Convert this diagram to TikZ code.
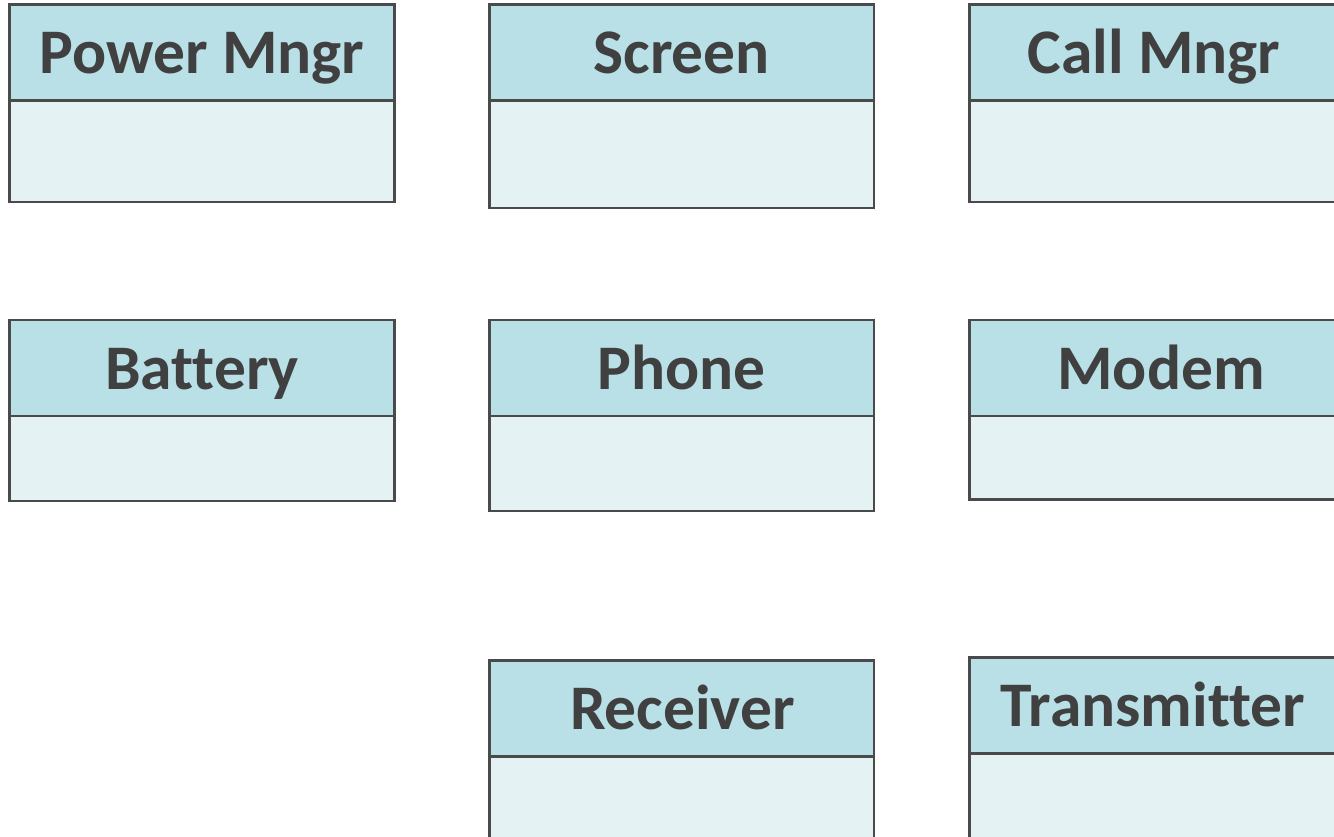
\documentclass[tikz,border=0pt]{standalone}
\usepackage{fontspec}
\setmainfont[Ligatures=NoCommon]{Carlito}
\usetikzlibrary{fit}
\definecolor{headfill}{HTML}{B8E0E6}
\definecolor{bodyfill}{HTML}{E4F2F3}
\definecolor{edgegray}{HTML}{4A4A4A}
\definecolor{ink}{HTML}{404040}
\tikzset{
  classhead/.style={draw=edgegray, fill=headfill, line width=2.5pt, inner sep=0pt},
  classbody/.style={draw=edgegray, fill=bodyfill, line width=2.5pt, inner sep=0pt},
  classname/.style={text=ink, font=\fontsize{63.5}{76}\selectfont\bfseries, inner sep=0pt, anchor=base}
}
% #1 name, #2 left, #3 right, #4 top, #5 divider, #6 bottom, #7 text x, #8 baseline, #9 title
\newcommand\umlclassbox[9]{%
  \node[classbody, fit={(#2,#5) (#3,#6)}] (#1-body) {};
  \node[classhead, fit={(#2,#4) (#3,#5)}] (#1-head) {};
  \node[classname] (#1-title) at (#7,#8) {#9};
}
\begin{document}
\begin{tikzpicture}[x=1pt, y=-1pt]
  \useasboundingbox (0,0) rectangle (1334,837);
  \clip (0,0) rectangle (1334,837);
  \umlclassbox{power}{9.5}{394.5}{4.7}{100.5}{202}{202}{74}{Power Mngr}
  \umlclassbox{screen}{489.5}{874}{4.7}{100.5}{208}{681.7}{74}{Screen}
  \umlclassbox{call}{969.5}{1360}{4.7}{100.5}{202}{1154}{74}{Call Mngr}
  \umlclassbox{battery}{9.5}{394.5}{320}{416}{501}{202}{389.5}{Battery}
  \umlclassbox{phone}{489.5}{874}{320}{416}{511}{681.7}{389.5}{Phone}
  \umlclassbox{modem}{969.5}{1360}{320}{416}{499.5}{1161}{389.5}{Modem}
  \umlclassbox{receiver}{489.5}{874}{660.5}{756.5}{860}{682.5}{729.5}{Receiver}
  \umlclassbox{transmitter}{969.5}{1360}{657.5}{753.5}{860}{1153}{726.5}{Transmitter}
\end{tikzpicture}
\end{document}
